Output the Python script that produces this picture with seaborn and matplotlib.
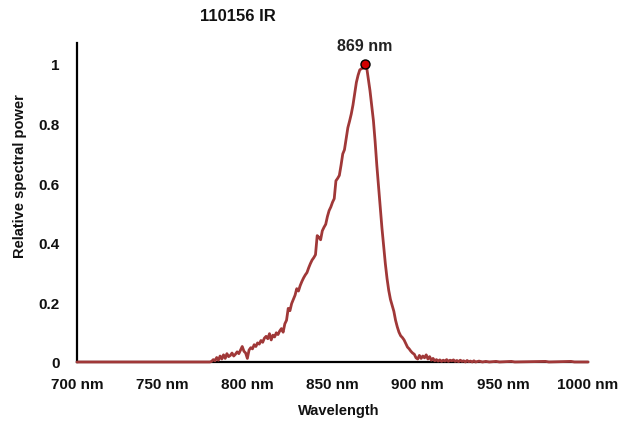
import matplotlib
matplotlib.use("Agg")
import matplotlib.pyplot as plt
import seaborn as sns
import pandas as pd

# Emission spectrum of the 110156 IR source (relative power vs. wavelength)
wavelength_nm = [
    700, 776, 777, 778, 779, 780, 781, 782, 783, 784, 785, 786, 787, 788, 789,
    790, 791, 792, 793, 794, 795, 796, 797, 798, 799,
    800, 801, 802, 803, 804, 805, 806, 807, 808, 809,
    810, 811, 812, 813, 814, 815, 816, 817, 818, 819,
    820, 821, 822, 823, 824, 825, 826, 827, 828, 829,
    830, 831, 832, 833, 834, 835, 836, 837, 838, 839,
    840, 841, 842, 843, 844, 845, 846, 847, 848, 849,
    850, 851, 852, 853, 854, 855, 856, 857, 858, 859,
    860, 861, 862, 863, 864, 865, 866, 867, 868, 869,
    870, 871, 872, 873, 874, 875, 876, 877, 878, 879,
    880, 881, 882, 883, 884, 885, 886, 887, 888, 889,
    890, 891, 892, 893, 894, 895, 896, 897, 898, 899,
    900, 901, 902, 903, 904, 905, 906, 907, 908, 909,
    910, 911, 912, 913, 914, 915, 916, 917, 918, 919,
    920, 921, 922, 923, 924, 925, 926, 927, 928, 929,
    930, 931, 932, 933, 934, 936, 938, 940, 942, 946,
    948, 955, 957, 975, 977, 990, 992, 1000,
]
relative_power = [
    0.000, 0.000, 0.000, 0.000, 0.002, 0.008, 0.004, 0.015, 0.006, 0.020, 0.010, 0.024, 0.012, 0.028, 0.018,
    0.022, 0.030, 0.020, 0.026, 0.034, 0.028, 0.040, 0.052, 0.036, 0.030,
    0.012, 0.040, 0.048, 0.044, 0.058, 0.052, 0.064, 0.060, 0.072, 0.066,
    0.080, 0.086, 0.078, 0.095, 0.074, 0.090, 0.084, 0.098, 0.092, 0.104,
    0.112, 0.100, 0.128, 0.140, 0.180, 0.172, 0.196, 0.210, 0.224, 0.246,
    0.238, 0.256, 0.270, 0.282, 0.292, 0.300, 0.316, 0.330, 0.342, 0.350,
    0.360, 0.424, 0.418, 0.410, 0.440, 0.452, 0.462, 0.488, 0.508, 0.520,
    0.536, 0.548, 0.608, 0.616, 0.626, 0.660, 0.698, 0.712, 0.748, 0.786,
    0.808, 0.832, 0.862, 0.900, 0.938, 0.962, 0.980, 0.984, 0.986, 1.000,
    0.990, 0.950, 0.910, 0.860, 0.810, 0.740, 0.660, 0.590, 0.520, 0.450,
    0.390, 0.330, 0.280, 0.240, 0.210, 0.190, 0.170, 0.140, 0.118, 0.100,
    0.088, 0.082, 0.074, 0.062, 0.050, 0.044, 0.036, 0.030, 0.026, 0.014,
    0.010, 0.022, 0.012, 0.020, 0.014, 0.024, 0.010, 0.018, 0.006, 0.012,
    0.004, 0.008, 0.003, 0.007, 0.002, 0.006, 0.003, 0.008, 0.002, 0.006,
    0.004, 0.007, 0.002, 0.005, 0.001, 0.006, 0.002, 0.004, 0.000, 0.005,
    0.001, 0.003, 0.000, 0.004, 0.000, 0.003, 0.000, 0.002, 0.000, 0.002,
    0.000, 0.002, 0.000, 0.002, 0.000, 0.002, 0.000, 0.000,
]
peak_nm = 869
peak_value = 1.0

x_ticks = [700, 750, 800, 850, 900, 950, 1000]
x_tick_labels = ["700 nm", "750 nm", "800 nm", "850 nm", "900 nm", "950 nm", "1000 nm"]
y_ticks = [0, 0.2, 0.4, 0.6, 0.8, 1]
y_tick_labels = ["0", "0.2", "0.4", "0.6", "0.8", "1"]

sns.set_theme(style="white")
plt.rcParams["font.family"] = ["Liberation Sans", "DejaVu Sans"]

df = pd.DataFrame({"Wavelength": wavelength_nm, "Power": relative_power})

fig = plt.figure(figsize=(6.19, 4.31), dpi=100)
ax = fig.add_axes([0.1244, 0.1578, 0.8256, 0.7400])

sns.lineplot(data=df, x="Wavelength", y="Power", ax=ax, color="#a03838",
             linewidth=2.0, estimator=None, sort=False, zorder=5)
for ln in ax.lines:
    ln.set_clip_on(False)

ax.plot([peak_nm], [peak_value], marker="o", markersize=6.5,
        markerfacecolor="#d00000", markeredgecolor="black",
        markeredgewidth=1.0, linestyle="none", zorder=6, clip_on=False)
ax.annotate(f"{peak_nm} nm", xy=(peak_nm, peak_value), xytext=(0, 7.5),
            textcoords="offset points", ha="center", va="bottom",
            fontsize=11.5, fontweight="bold", color="#222222")

ax.set_xlim(700, 1000)
ax.set_ylim(0, 1.07)
ax.set_xticks(x_ticks)
ax.set_xticklabels(x_tick_labels)
ax.set_yticks(y_ticks)
ax.set_yticklabels(y_tick_labels)

for side in ("top", "right"):
    ax.spines[side].set_visible(False)
for side in ("left", "bottom"):
    ax.spines[side].set_color("black")
    ax.spines[side].set_linewidth(1.6)

ax.tick_params(axis="both", direction="out", length=3.5, width=1.5,
               color="black", labelsize=11, labelcolor="#111111", pad=7)
ax.tick_params(axis="y", pad=9)
for lbl in ax.get_xticklabels() + ax.get_yticklabels():
    lbl.set_fontweight("bold")

ax.set_xlabel("Wavelength", fontsize=10.5, fontweight="bold", color="#111111")
ax.set_ylabel("Relative spectral power", fontsize=10.5, fontweight="bold", color="#111111")
ax.xaxis.set_label_coords(0.512, -0.13)
ax.yaxis.set_label_coords(-0.098, 0.585)

fig.text(0.385, 0.962, "110156 IR", ha="center", va="center",
         fontsize=12, fontweight="bold", color="#111111")

fig.savefig("out.png", dpi=100, facecolor="white")
